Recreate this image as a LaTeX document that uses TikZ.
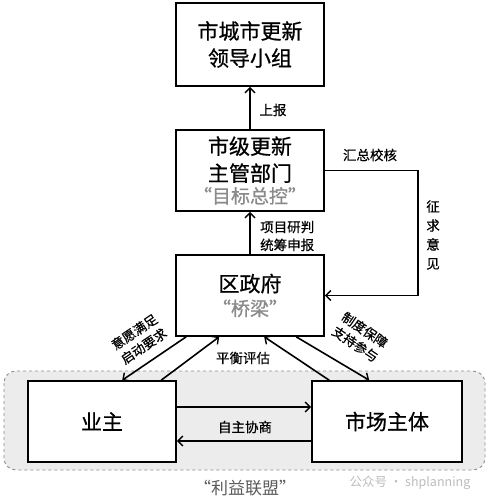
\documentclass[tikz,border=0pt]{standalone}
\usepackage{fontspec}
\setmainfont{Noto Sans CJK SC}
\usetikzlibrary{arrows.meta,positioning}
\definecolor{qgray}{HTML}{8A8A8A}
\definecolor{lgray}{HTML}{5A5A5A}
\definecolor{regionfill}{HTML}{ECECEC}
\definecolor{regiondraw}{HTML}{8C8C8C}
\definecolor{wmark}{HTML}{BBBBBB}
\newcommand{\boxfont}{\fontsize{21}{27}\selectfont\addfontfeature{FakeBold=0.8}}
\newcommand{\labfont}{\fontsize{13.5}{18}\selectfont\addfontfeature{FakeBold=0.5}}
\tikzset{
  box/.style={draw, line width=1.6pt, minimum width=148pt, minimum height=81pt,
    inner sep=0pt, align=center, font=\boxfont, fill=white},
  lab/.style={font=\labfont, inner sep=1pt, align=center},
  arr/.style={-{Straight Barb[length=5pt,width=10pt,line width=1.4pt]}, line width=1.6pt},
  region/.style={draw=regiondraw, fill=regionfill, dashed, line width=0.9pt, rounded corners=12pt},
}
\begin{document}
\begin{tikzpicture}[x=1pt,y=-1pt]
\useasboundingbox (0,0) rectangle (487,502);
\draw[region] (4,371) rectangle (485,470);

\node[box, minimum height=83pt] (top) at (250,44.5) {市城市更新\\领导小组};
\node[box] (mid) at (250,170.5) {市级更新\\主管部门\\[-5pt]{\fontsize{19}{22}\selectfont\color{qgray}“目标总控”}};
\node[box] (dist) at (250,295.5) {区政府\\[-3pt]{\fontsize{19}{22}\selectfont\color{qgray}“桥梁”}};
\node[box] (own) at (102,421.5) {业主};
\node[box, minimum width=150pt] (mkt) at (387,421.5) {市场主体};

\draw[arr] (mid.north) -- (top.south);
\draw[arr] (dist.north) -- (mid.south);
\draw[arr] (mid.east) -- ++(93,0) |- (dist.east);

\draw[arr] ([xshift=11pt]dist.south west) -- ([xshift=95pt]own.north west);
\draw[arr] ([xshift=134pt]own.north west) -- ([xshift=44pt]dist.south west);
\draw[arr] ([xshift=18pt]mkt.north west) -- ([xshift=89pt]dist.south west);
\draw[arr] ([xshift=121pt]dist.south west) -- ([xshift=58pt]mkt.north west);

\draw[arr] ([yshift=14.5pt]own.east) -- ([yshift=14.5pt]mkt.west);
\draw[arr] ([yshift=-19.5pt]mkt.west) -- ([yshift=-19.5pt]own.east);

\node[lab] (l1) at (273,110) {上报};
\node[lab, anchor=west, align=left] (l2) at (259,236) {项目研判\\统筹申报};
\node[lab] (l3) at (370,155) {汇总校核};
\node[lab, font=\fontsize{13.5}{19}\selectfont\addfontfeature{FakeBold=0.5}] (l4) at (433,235) {征\\求\\意\\见};
\node[lab] (l5) at (243,358) {平衡评估};
\node[lab] (l6) at (245,427) {自主协商};
\node[lab, rotate=34, font=\fontsize{13}{17}\selectfont\addfontfeature{FakeBold=0.5}] (l7) at (139,339) {意愿满足\\启动要求};
\node[lab, rotate=-34, font=\fontsize{13}{17}\selectfont\addfontfeature{FakeBold=0.5}] (l8) at (360,337) {制度保障\\支持参与};
\node[font=\fontsize{17}{20}\selectfont, text=lgray, inner sep=0pt] (l9) at (245,488) {“利益联盟”};
\node[font=\fontsize{12.5}{15}\selectfont, text=wmark, inner sep=0pt] (wm) at (410,483) {公众号 · shplanning};
\end{tikzpicture}
\end{document}
